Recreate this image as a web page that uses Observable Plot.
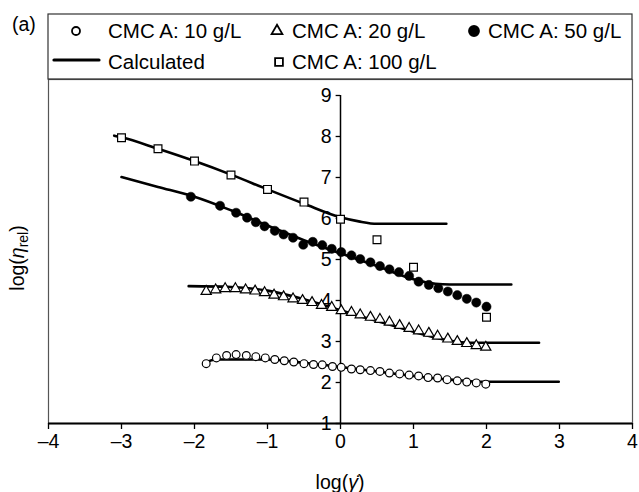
<!DOCTYPE html>
<html><head><meta charset="utf-8">
<script src="https://cdn.jsdelivr.net/npm/d3@7"></script>
<script src="https://cdn.jsdelivr.net/npm/@observablehq/plot@0.6"></script>
<style>body{margin:0;background:#fff;} #chart{width:639px;height:492px;}</style>
</head><body><div id="chart"></div>
<script>
// ---- data ----
const xTicks = [-4, -3, -2, -1, 0, 1, 2, 3, 4];
const yTicks = [1, 2, 3, 4, 5, 6, 7, 8, 9];

const x10 = [-1.84,-1.70,-1.56,-1.43,-1.29,-1.16,-1.03,-0.90,-0.77,-0.64,-0.50,-0.37,-0.25,-0.11,0.01,0.15,0.27,0.41,0.54,0.67,0.81,0.94,1.07,1.20,1.33,1.46,1.60,1.73,1.86,1.99];
const y10 = [2.46,2.60,2.66,2.68,2.66,2.63,2.60,2.56,2.53,2.50,2.46,2.44,2.43,2.39,2.37,2.33,2.31,2.29,2.27,2.23,2.21,2.18,2.16,2.12,2.11,2.07,2.04,2.01,1.99,1.96];

const x20 = [-1.84,-1.71,-1.58,-1.44,-1.30,-1.17,-1.04,-0.91,-0.78,-0.65,-0.52,-0.39,-0.26,-0.12,0.01,0.15,0.27,0.41,0.54,0.67,0.81,0.94,1.07,1.21,1.33,1.47,1.60,1.73,1.86,1.99];
const y20 = [4.22,4.26,4.29,4.29,4.26,4.23,4.19,4.13,4.09,4.04,4.00,3.95,3.88,3.83,3.75,3.71,3.65,3.59,3.54,3.47,3.39,3.32,3.26,3.20,3.13,3.06,3.00,2.95,2.90,2.86];

const x50 = [-2.05,-1.65,-1.43,-1.28,-1.16,-1.04,-0.90,-0.78,-0.65,-0.51,-0.38,-0.25,-0.12,0.01,0.15,0.27,0.41,0.54,0.67,0.80,0.94,1.07,1.21,1.34,1.47,1.60,1.73,1.86,2.00];
const y50 = [6.53,6.31,6.14,6.02,5.91,5.81,5.70,5.61,5.53,5.36,5.43,5.35,5.26,5.18,5.10,5.01,4.93,4.84,4.76,4.69,4.60,4.46,4.38,4.30,4.22,4.13,4.04,3.95,3.85];

const x100 = [-3.0,-2.5,-2.0,-1.5,-1.0,-0.5,0.0,0.5,1.0,2.0];
const y100 = [7.97,7.70,7.40,7.06,6.71,6.40,5.98,5.48,4.81,3.59];

const calcX10 = [-1.86,-1.7,-1.0,-0.5,0,0.5,1.0,1.5,1.9,2.99];
const calcY10 = [2.48,2.56,2.56,2.48,2.38,2.27,2.16,2.07,2.02,2.02];
const calcX20 = [-2.08,-1.5,-1.0,-0.5,0,0.5,1.0,1.5,1.75,2.72];
const calcY20 = [4.35,4.33,4.24,4.03,3.76,3.50,3.24,3.02,2.97,2.97];
const calcX50 = [-3.0,-2.5,-2.0,-1.5,-1.0,-0.5,0,0.5,1.0,1.3,1.5,2.34];
const calcY50 = [7.01,6.77,6.53,6.20,5.83,5.47,5.15,4.84,4.52,4.41,4.39,4.39];
const calcX100 = [-3.1,-3.0,-2.5,-2.0,-1.5,-1.0,-0.5,0,0.25,0.5,1.45];
const calcY100 = [8.02,7.98,7.70,7.40,7.07,6.71,6.36,6.03,5.93,5.87,5.87];

const seriesLabels = ["CMC A: 10 g/L","CMC A: 20 g/L","CMC A: 50 g/L","CMC A: 100 g/L","Calculated"];

// ---- build ----
const pts = (xs, ys) => xs.map((x, i) => ({x, y: ys[i]}));
const FONT = "Liberation Sans, Arial, Helvetica, sans-serif";
const lineOpts = {x: "x", y: "y", stroke: "#000", strokeWidth: 2.6, curve: "monotone-x"};

const plot = Plot.plot({
  width: 639, height: 492,
  marginTop: 79, marginBottom: 69, marginLeft: 48, marginRight: 7,
  x: {domain: [-4, 4]},
  y: {domain: [1, 9.39], axis: null},
  style: {fontFamily: FONT, background: "white", color: "#000"},
  marks: [
    Plot.frame({stroke: "#555", strokeWidth: 1.2}),
    Plot.ruleY([1], {stroke: "#000", strokeWidth: 2}),
    Plot.ruleX([0], {y1: 1, y2: 9, stroke: "#000", strokeWidth: 1.5}),
    Plot.ruleY(yTicks, {y: d => d, x1: -0.06, x2: 0, stroke: "#000", strokeWidth: 1.3}),
    Plot.text(yTicks, {x: 0, y: d => d, text: d => String(d), textAnchor: "end", dx: -9, fontSize: 19.5, fill: "#000"}),
    Plot.axisX({ticks: xTicks, tickSize: 6, tickPadding: 5, fontSize: 19.5, stroke: "#000", strokeWidth: 1.3,
      tickFormat: d => d < 0 ? "\u2013" + (-d) : String(d), label: null}),
    Plot.line(pts(calcX10, calcY10), lineOpts),
    Plot.line(pts(calcX20, calcY20), lineOpts),
    Plot.line(pts(calcX50, calcY50), lineOpts),
    Plot.line(pts(calcX100, calcY100), lineOpts),
    Plot.dot(pts(x10, y10), {x: "x", y: "y", symbol: "circle", r: 3.9, fill: "white", stroke: "#000", strokeWidth: 1.2}),
    Plot.dot(pts(x20, y20), {x: "x", y: "y", symbol: "triangle", r: 3.8, fill: "white", stroke: "#000", strokeWidth: 1.2}),
    Plot.dot(pts(x50, y50), {x: "x", y: "y", symbol: "circle", r: 4.6, fill: "#000", stroke: "#000", strokeWidth: 0.5}),
    Plot.dot(pts(x100, y100), {x: "x", y: "y", symbol: "square", r: 4.4, fill: "white", stroke: "#000", strokeWidth: 1.2})
  ]
});
document.getElementById("chart").appendChild(plot);

// ---- legend, panel tag and axis titles ----
const svg = d3.select(plot);
const g = svg.append("g").attr("font-family", FONT).attr("fill", "#000").attr("text-anchor", "start");
g.append("rect").attr("x", 48).attr("y", 14).attr("width", 584).attr("height", 65)
  .attr("fill", "none").attr("stroke", "#333").attr("stroke-width", 1.2);
g.append("text").attr("x", 12).attr("y", 31).attr("font-size", 19.5).attr("text-anchor", "start").text("(a)");

const sym = (type, size) => d3.symbol(type, size)();
const leg = [
  {kind: "sym", type: d3.symbolCircle, size: Math.PI*4*4, fill: "white", mx: 76, my: 31, tx: 108, ty: 38, label: seriesLabels[0]},
  {kind: "sym", type: d3.symbolTriangle, size: Math.PI*4*4, fill: "white", mx: 277, my: 31, tx: 292, ty: 38, label: seriesLabels[1]},
  {kind: "sym", type: d3.symbolCircle, size: Math.PI*5*5, fill: "#000", mx: 474, my: 31, tx: 488, ty: 38, label: seriesLabels[2]},
  {kind: "sym", type: d3.symbolSquare, size: Math.PI*4.4*4.4, fill: "white", mx: 279, my: 62, tx: 292, ty: 69, label: seriesLabels[3]},
  {kind: "line", x1: 54, x2: 99, my: 60, tx: 108, ty: 69, label: seriesLabels[4]}
];
for (const d of leg) {
  if (d.kind === "sym") {
    g.append("path").attr("d", sym(d.type, d.size)).attr("transform", `translate(${d.mx},${d.my})`)
      .attr("fill", d.fill).attr("stroke", "#000").attr("stroke-width", 1.8);
  } else {
    g.append("line").attr("x1", d.x1).attr("x2", d.x2).attr("y1", d.my).attr("y2", d.my)
      .attr("stroke", "#000").attr("stroke-width", 3.2).attr("stroke-linecap", "round");
  }
  g.append("text").attr("x", d.tx).attr("y", d.ty).attr("font-size", 20.5).attr("text-anchor", "start").text(d.label);
}

// x title: log(γ̇)
const xt = g.append("text").attr("x", 340).attr("y", 489).attr("text-anchor", "middle").attr("font-size", 19.5);
xt.append("tspan").text("log(");
xt.append("tspan").attr("font-style", "italic").text("\u03B3\u0307");
xt.append("tspan").text(")");

// y title: log(η_rel)
const yt = g.append("text").attr("transform", "translate(24,258) rotate(-90)").attr("text-anchor", "middle").attr("font-size", 19.5);
yt.append("tspan").text("log(");
yt.append("tspan").attr("font-style", "italic").text("\u03B7");
yt.append("tspan").attr("font-size", 14).attr("dy", 4).text("rel");
yt.append("tspan").attr("dy", -4).text(")");
</script>
</body></html>
